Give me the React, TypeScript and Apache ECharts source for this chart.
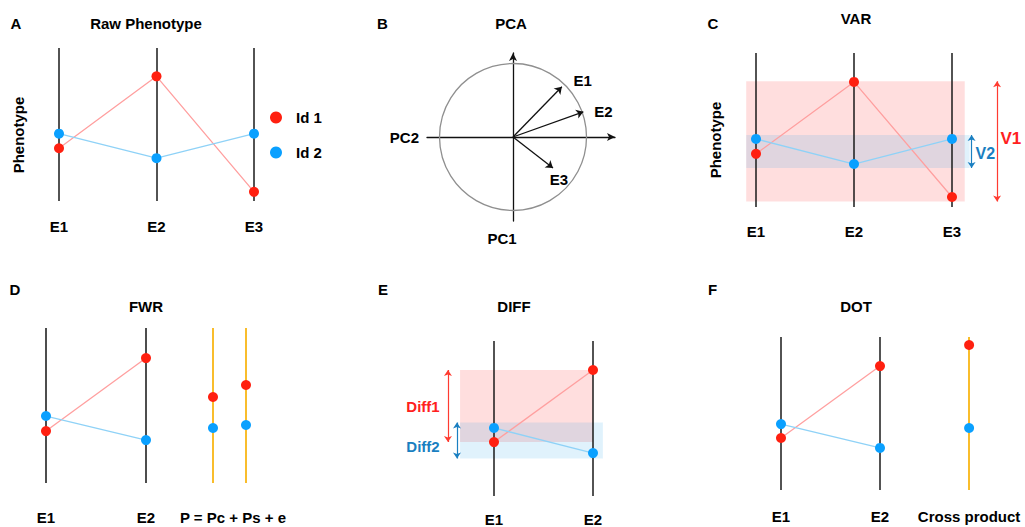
import React, { useEffect, useRef } from 'react';
import * as echarts from 'echarts';

const FONT = '"Liberation Sans", Arial, Helvetica, sans-serif';
const RED = '#ff2010';
const BLUE = '#0aa0ff';
const PINK_LINE = '#ff9f9f';
const BLUE_LINE = '#8fd2f7';
const ORANGE = '#f9bd2c';
const DARK = '#1a1a1a';

// ---- data ----
const rawEnvs = ['E1', 'E2', 'E3'];
const rawId1 = [3.45, 8.15, 0.6];
const rawId2 = [4.4, 2.8, 4.4];

const pcaEnvs = ['E1', 'E2', 'E3'];
const pcaPC2 = [0.66, 0.95, 0.54];
const pcaPC1 = [0.68, 0.34, -0.42];

const varEnvs = ['E1', 'E2', 'E3'];
const varId1 = [3.45, 8.12, 0.65];
const varId2 = [4.42, 2.79, 4.42];

const fwrEnvs = ['E1', 'E2'];
const fwrId1 = [3.35, 8.06];
const fwrId2 = [4.32, 2.77];
const fwrModelLabel = 'P = Pc + Ps + e';
const fwrModelId1 = [5.55, 6.32];
const fwrModelId2 = [3.55, 3.74];

const diffEnvs = ['E1', 'E2'];
const diffId1 = [3.48, 8.13];
const diffId2 = [4.39, 2.77];

const dotEnvs = ['E1', 'E2'];
const dotId1 = [3.4, 8.1];
const dotId2 = [4.31, 2.75];
const crossLabel = 'Cross product';
const crossId1 = [9.48];
const crossId2 = [4.05];

// ---- helpers ----
const labelAxis = (gi: number, min: number, max: number, positions: number[], labels: string[], margin: number) => ({
  type: 'value', gridIndex: gi, min, max,
  axisLine: { show: false }, axisTick: { show: false }, splitLine: { show: false },
  axisLabel: {
    customValues: positions,
    formatter: (v: number) => {
      const i = positions.findIndex((p) => Math.abs(p - v) < 1e-6);
      return i >= 0 ? labels[i] : '';
    },
    margin, color: '#000', fontWeight: 'bold', fontSize: 15, fontFamily: FONT,
  },
});
const hiddenY = (gi: number) => ({ type: 'value', gridIndex: gi, min: 0, max: 10, show: false });

const verticals = (gi: number, xs: number[], color: string, width: number) => ({
  type: 'lines', coordinateSystem: 'cartesian2d', xAxisIndex: gi, yAxisIndex: gi,
  data: xs.map((x) => ({ coords: [[x, 0], [x, 10]] })),
  lineStyle: { color, width, opacity: 1, curveness: 0 }, symbol: 'none', silent: true, z: 2,
});

const profile = (gi: number, name: string, xs: number[], values: number[], dot: string, line: string | null, extra: any = {}) => ({
  type: 'line', name, xAxisIndex: gi, yAxisIndex: gi,
  data: values.map((v, i) => [xs[i], v]),
  symbol: 'circle', symbolSize: 10, showSymbol: true,
  itemStyle: { color: dot, opacity: 1 },
  lineStyle: line ? { color: line, width: 1.3 } : { width: 0, opacity: 0 },
  emphasis: { disabled: true }, silent: true, z: 3, ...extra,
});

const arrows = (gi: number, segs: number[][][], color: string, symbol: string[], width = 1.3, size = 7) => ({
  type: 'lines', coordinateSystem: 'cartesian2d', xAxisIndex: gi, yAxisIndex: gi,
  data: segs.map((c) => ({ coords: c })),
  lineStyle: { color, width, opacity: 1, curveness: 0 }, symbol, symbolSize: size, silent: true, z: 4,
});

const band = (color: string, x1: number, x2: number, y1: number, y2: number) => ({
  silent: true, label: { show: false }, itemStyle: { color },
  data: [[{ coord: [x1, y1] }, { coord: [x2, y2] }]],
});

const textLabels = (gi: number, items: { name: string; value: number[] }[], color: string, size = 15) => ({
  type: 'scatter', xAxisIndex: gi, yAxisIndex: gi, data: items, symbolSize: 1,
  itemStyle: { color: 'rgba(0,0,0,0)', opacity: 1 }, silent: true, z: 5,
  emphasis: { disabled: true },
  label: {
    show: true, position: 'inside', formatter: '{b}', color, opacity: 1, textBorderWidth: 0,
    fontSize: size, fontWeight: 'bold', fontFamily: FONT,
  },
});

const txt = (text: string, x: number, y: number, opts: any = {}) => ({
  type: 'text', x, y, rotation: opts.rotation || 0, silent: true, z: 10,
  style: {
    text, fill: opts.color || '#000', fontSize: opts.size || 15, fontWeight: 'bold', fontFamily: FONT,
    align: 'center', verticalAlign: 'middle', textAlign: 'center', textVerticalAlign: 'middle',
  },
});

const idx = (a: any[]) => a.map((_, i) => i + 1);

function buildOption() {
  const grids = [
    { left: 39.5, top: 48, width: 234, height: 153 },
    { left: 427, top: 53, width: 188, height: 168 },
    { left: 736.4, top: 53, width: 284.2, height: 154 },
    { left: 26, top: 328, width: 260, height: 155 },
    { left: 395, top: 341, width: 227.7, height: 155 },
    { left: 761.2, top: 337, width: 237.6, height: 153 },
  ].map((g) => ({ ...g, outerBoundsMode: 'none', containLabel: false }));

  const fwrModelX = [2.67, 3.0];
  const crossX = [2.9];

  const pcaAxisLine = { show: true, onZero: true, symbol: ['none', 'arrow'], symbolSize: [6, 8], lineStyle: { color: '#111', width: 1.3 } };
  const nameStyle = { color: '#000', fontSize: 15, fontWeight: 'bold', fontFamily: FONT };

  const xAxis = [
    labelAxis(0, 0.8, 3.2, idx(rawEnvs), rawEnvs, 18),
    {
      type: 'value', gridIndex: 1, min: -1.162, max: 1.378, axisLine: pcaAxisLine,
      axisTick: { show: false }, axisLabel: { show: false }, splitLine: { show: false },
      name: 'PC2', nameLocation: 'start', nameGap: 8, nameTextStyle: nameStyle,
    },
    labelAxis(2, 0.8, 3.7, idx(varEnvs), varEnvs, 17),
    labelAxis(3, 0.8, 3.4, [...idx(fwrEnvs), 2.87], [...fwrEnvs, fwrModelLabel], 27),
    labelAxis(4, 0, 2.3, idx(diffEnvs), diffEnvs, 16),
    labelAxis(5, 0.8, 3.2, [...idx(dotEnvs), crossX[0]], [...dotEnvs, crossLabel], 19),
  ];
  const yAxis = [
    hiddenY(0),
    {
      type: 'value', gridIndex: 1, min: -1.135, max: 1.135, axisLine: pcaAxisLine,
      axisTick: { show: false }, axisLabel: { show: false }, splitLine: { show: false },
      name: 'PC1', nameLocation: 'start', nameGap: 10, nameTextStyle: { ...nameStyle, padding: [0, 22, 0, 0] },
    },
    hiddenY(2), hiddenY(3), hiddenY(4), hiddenY(5),
  ];

  const vMin1 = Math.min(...varId1), vMax1 = Math.max(...varId1);
  const vMin2 = Math.min(...varId2), vMax2 = Math.max(...varId2);
  const v1Band = [vMin1 - 0.3, vMax1 + 0.05];
  const v2Band = [vMin2 - 0.25, vMax2 + 0.25];

  const dMin1 = Math.min(...diffId1), dMax1 = Math.max(...diffId1);
  const dMin2 = Math.min(...diffId2), dMax2 = Math.max(...diffId2);
  const d1Band = [dMin1, dMax1];
  const d2Band = [dMin2 - 0.35, dMax2 + 0.35];

  const series: any[] = [
    // A
    verticals(0, idx(rawEnvs), DARK, 1.5),
    profile(0, 'Id 1', idx(rawEnvs), rawId1, RED, PINK_LINE),
    profile(0, 'Id 2', idx(rawEnvs), rawId2, BLUE, BLUE_LINE),
    // B
    {
      type: 'scatter', xAxisIndex: 1, yAxisIndex: 1, data: [[0, 0]], symbolSize: 147, silent: true, z: 1,
      itemStyle: { color: 'rgba(0,0,0,0)', borderColor: '#8f8f8f', borderWidth: 1.3, opacity: 1 },
    },
    arrows(1, pcaEnvs.map((_, i) => [[0, 0], [pcaPC2[i], pcaPC1[i]]]), '#111', ['none', 'arrow'], 1.3, 7),
    textLabels(1, [
      { name: pcaEnvs[0], value: [pcaPC2[0] + 0.28, pcaPC1[0] + 0.08] },
      { name: pcaEnvs[1], value: [pcaPC2[1] + 0.27, pcaPC1[1]] },
      { name: pcaEnvs[2], value: [pcaPC2[2] + 0.08, pcaPC1[2] - 0.16] },
    ], '#000'),
    // C
    verticals(2, idx(varEnvs), DARK, 1.5),
    profile(2, 'Id 1', idx(varEnvs), varId1, RED, PINK_LINE, { markArea: band('rgba(255,0,0,0.13)', 0.9, 3.13, v1Band[0], v1Band[1]) }),
    profile(2, 'Id 2', idx(varEnvs), varId2, BLUE, BLUE_LINE, { markArea: band('rgba(0,150,230,0.12)', 0.9, 3.18, v2Band[0], v2Band[1]) }),
    arrows(2, [[[3.46, v1Band[0]], [3.46, v1Band[1]]]], '#ff3b30', ['arrow', 'arrow'], 1.2, 6),
    arrows(2, [[[3.2, v2Band[0]], [3.2, v2Band[1]]]], '#1a7fc1', ['arrow', 'arrow'], 1.2, 6),
    textLabels(2, [{ name: 'V1', value: [3.6, (v1Band[0] + v1Band[1]) / 2 + 0.2] }], '#ff2020', 17),
    textLabels(2, [{ name: 'V2', value: [3.34, (v2Band[0] + v2Band[1]) / 2 - 0.15] }], '#1a7fc1', 16),
    // D
    verticals(3, idx(fwrEnvs), '#4d4d4d', 2),
    verticals(3, fwrModelX, ORANGE, 2),
    profile(3, 'Id 1', idx(fwrEnvs), fwrId1, RED, PINK_LINE),
    profile(3, 'Id 2', idx(fwrEnvs), fwrId2, BLUE, BLUE_LINE),
    profile(3, 'Id 1 model', fwrModelX, fwrModelId1, RED, null, { type: 'scatter' }),
    profile(3, 'Id 2 model', fwrModelX, fwrModelId2, BLUE, null, { type: 'scatter' }),
    // E
    verticals(4, idx(diffEnvs), DARK, 1.5),
    profile(4, 'Id 1', idx(diffEnvs), diffId1, RED, PINK_LINE, { markArea: band('rgba(255,0,0,0.13)', 0.657, 2.0, d1Band[0], d1Band[1]) }),
    profile(4, 'Id 2', idx(diffEnvs), diffId2, BLUE, BLUE_LINE, { markArea: band('rgba(0,150,230,0.12)', 0.657, 2.1, d2Band[0], d2Band[1]) }),
    arrows(4, [[[0.535, d1Band[0]], [0.535, d1Band[1]]]], '#ff3b30', ['arrow', 'arrow'], 1.2, 6),
    arrows(4, [[[0.626, d2Band[0]], [0.626, d2Band[1]]]], '#1a7fc1', ['arrow', 'arrow'], 1.2, 6),
    textLabels(4, [{ name: 'Diff1', value: [0.283, (d1Band[0] + d1Band[1]) / 2] }], '#ff2020', 15),
    textLabels(4, [{ name: 'Diff2', value: [0.283, (d2Band[0] + d2Band[1]) / 2 - 0.4] }], '#1a7fc1', 15),
    // F
    verticals(5, idx(dotEnvs), DARK, 1.5),
    verticals(5, crossX, ORANGE, 2),
    profile(5, 'Id 1', idx(dotEnvs), dotId1, RED, PINK_LINE),
    profile(5, 'Id 2', idx(dotEnvs), dotId2, BLUE, BLUE_LINE),
    profile(5, 'Id 1 cross', crossX, crossId1, RED, null, { type: 'scatter' }),
    profile(5, 'Id 2 cross', crossX, crossId2, BLUE, null, { type: 'scatter' }),
  ];

  const graphic = [
    txt('A', 16, 23), txt('Raw Phenotype', 146, 23),
    txt('B', 382.5, 23), txt('PCA', 511, 23),
    txt('C', 713, 23), txt('VAR', 856, 18),
    txt('D', 15, 289.5), txt('FWR', 146, 306),
    txt('E', 383, 289), txt('DIFF', 514, 306),
    txt('F', 712.5, 289), txt('DOT', 856, 306),
    txt('Phenotype', 18, 135, { rotation: Math.PI / 2 }),
    txt('Phenotype', 715, 140, { rotation: Math.PI / 2 }),
  ];

  return {
    animation: false,
    backgroundColor: '#fff',
    grid: grids,
    xAxis, yAxis, series, graphic,
    legend: {
      data: ['Id 1', 'Id 2'], orient: 'vertical', left: 265, top: 105, icon: 'circle',
      itemWidth: 12, itemHeight: 12, itemGap: 20, selectedMode: false,
      textStyle: { fontSize: 15, fontWeight: 'bold', fontFamily: FONT, color: '#000', padding: [0, 0, 0, 9] },
    },
  };
}

export default function App() {
  const ref = useRef<HTMLDivElement>(null);
  useEffect(() => {
    if (!ref.current) return;
    const chart = echarts.init(ref.current, null, { renderer: 'svg' });
    chart.setOption(buildOption() as any);
    return () => chart.dispose();
  }, []);
  return <div ref={ref} style={{ position: 'absolute', left: 0, top: 0, width: 1025, height: 527, background: '#fff' }} />;
}
